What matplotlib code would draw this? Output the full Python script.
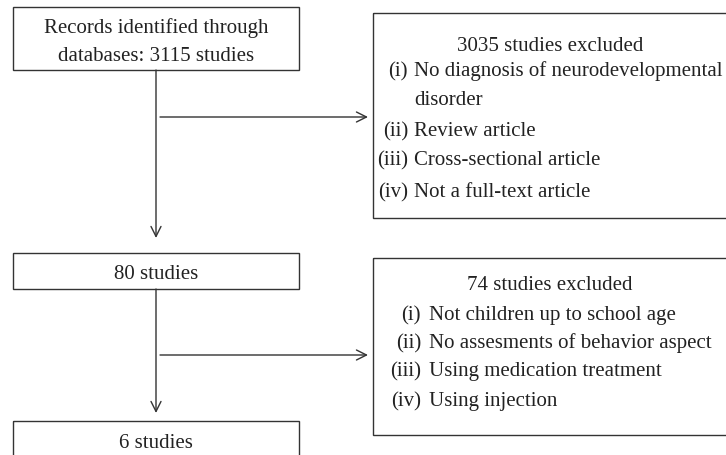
import matplotlib.pyplot as plt
from matplotlib.patches import Rectangle

plt.rcParams['font.family'] = ['Liberation Serif', 'DejaVu Serif']

# Texts of the flow chart
main_boxes = [
    "Records identified through\ndatabases: 3115 studies",
    "80 studies",
    "6 studies",
]
excl_titles = ["3035 studies excluded", "74 studies excluded"]
excl_labels_1 = ["(i)", "", "(ii)", "(iii)", "(iv)"]
excl_items_1 = ["No diagnosis of neurodevelopmental", "disorder",
                "Review article", "Cross-sectional article",
                "Not a full-text article"]
excl_labels_2 = ["(i)", "(ii)", "(iii)", "(iv)"]
excl_items_2 = ["Not children up to school age",
                "No assesments of behavior aspect",
                "Using medication treatment", "Using injection"]

W, H = 726, 455
fig = plt.figure(figsize=(W / 100, H / 100), dpi=100)
ax = fig.add_axes([0, 0, 1, 1])
ax.set_xlim(0, W)
ax.set_ylim(H, 0)
ax.axis('off')

lc = '#333333'
tc = '#222222'
fs = 15.0

# main boxes (x0, y0, x1, y1) and text baselines
main_geom = [(13, 7, 299, 70), (13, 253, 299, 289), (13, 421, 299, 470)]
main_base = [[33, 61], [279], [448]]
for (x0, y0, x1, y1), txt, bases in zip(main_geom, main_boxes, main_base):
    ax.add_patch(Rectangle((x0, y0), x1 - x0, y1 - y0, fill=False,
                           edgecolor=lc, lw=1.0, clip_on=False))
    for line, b in zip(txt.split('\n'), bases):
        ax.text((x0 + x1) / 2, b, line, ha='center', va='baseline',
                fontsize=fs, color=tc)

# exclusion boxes
excl_geom = [(373, 13, 740, 218), (373, 258, 740, 435)]
for x0, y0, x1, y1 in excl_geom:
    ax.add_patch(Rectangle((x0, y0), x1 - x0, y1 - y0, fill=False,
                           edgecolor=lc, lw=1.0, clip_on=False))

ax.text(550, 51, excl_titles[0], ha='center', va='baseline', fontsize=fs, color=tc)
ys1 = [76, 105, 136, 165, 197]
for lab, item, y in zip(excl_labels_1, excl_items_1, ys1):
    ax.text(408, y, lab, ha='right', va='baseline', fontsize=fs, color=tc)
    ax.text(414, y, item, ha='left', va='baseline', fontsize=fs, color=tc)

ax.text(550, 290, excl_titles[1], ha='center', va='baseline', fontsize=fs, color=tc)
ys2 = [320, 348, 376, 406]
for lab, item, y in zip(excl_labels_2, excl_items_2, ys2):
    ax.text(421, y, lab, ha='right', va='baseline', fontsize=fs, color=tc)
    ax.text(429, y, item, ha='left', va='baseline', fontsize=fs, color=tc)

# connectors
arrow_kw = dict(arrowstyle='->', color=lc, lw=1.0, mutation_scale=18,
                shrinkA=0, shrinkB=0)
ax.annotate('', xy=(156, 238), xytext=(156, 70), arrowprops=arrow_kw)
ax.annotate('', xy=(156, 413), xytext=(156, 289), arrowprops=arrow_kw)
ax.annotate('', xy=(368, 117), xytext=(160, 117), arrowprops=arrow_kw)
ax.annotate('', xy=(368, 355), xytext=(160, 355), arrowprops=arrow_kw)

fig.savefig('out.png', dpi=100)
